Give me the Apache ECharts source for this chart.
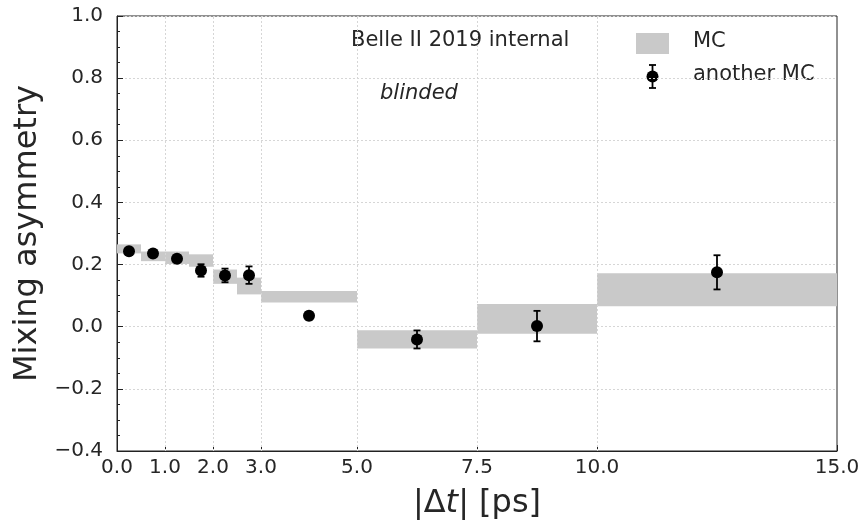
<!DOCTYPE html>
<html>
<head>
<meta charset="utf-8">
<script src="https://cdn.jsdelivr.net/npm/echarts@6/dist/echarts.min.js"></script>
<style>
html,body{margin:0;padding:0;background:#fff;}
#main{width:867px;height:525px;}
</style>
</head>
<body>
<div id="main"></div>
<script>
// ---- data ----
var binEdges = [0, 0.5, 1.0, 1.5, 2.0, 2.5, 3.0, 5.0, 7.5, 10.0, 15.0];
var mcLow  = [0.236, 0.211, 0.202, 0.193, 0.138, 0.104, 0.078, -0.070, -0.023, 0.066];
var mcHigh = [0.265, 0.242, 0.242, 0.233, 0.184, 0.158, 0.115, -0.011, 0.073, 0.172];
var ptX   = [0.25, 0.75, 1.25, 1.75, 2.25, 2.75, 4.0, 6.25, 8.75, 12.5];
var ptY   = [0.243, 0.236, 0.219, 0.181, 0.165, 0.166, 0.035, -0.041, 0.002, 0.175];
var ptErr = [0.009, 0.009, 0.011, 0.020, 0.022, 0.028, 0.012, 0.029, 0.049, 0.055];
var xTicks = [0, 1, 2, 3, 5, 7.5, 10, 15];
var xGrid = [1, 2, 3, 5, 7.5, 10];

var FONT = '"DejaVu Sans", sans-serif';
var TXT = '#262626';

var boxData = [];
for (var i = 0; i < mcLow.length; i++) boxData.push([binEdges[i], binEdges[i + 1], mcLow[i], mcHigh[i]]);
var errData = [];
var ptData = [];
for (var j = 0; j < ptX.length; j++) {
  errData.push([ptX[j], ptY[j] - ptErr[j], ptY[j] + ptErr[j]]);
  ptData.push([ptX[j], ptY[j]]);
}

var chart = echarts.init(document.getElementById('main'), null, {renderer: 'canvas'});
var option = {
  animation: false,
  backgroundColor: '#fff',
  textStyle: {fontFamily: FONT},
  grid: {left: 117, right: 30, top: 16, bottom: 71, show: true, borderColor: '#222', borderWidth: 1, backgroundColor: 'transparent'},
  xAxis: {
    type: 'value', min: 0, max: 15,
    name: '{n||Δ}{i|t}{n|| [ps]}',
    nameLocation: 'middle', nameGap: 37,
    nameTextStyle: {
      rich: {
        n: {fontFamily: FONT, fontSize: 32, color: TXT},
        i: {fontFamily: FONT, fontSize: 32, fontStyle: 'italic', color: TXT}
      }
    },
    axisLine: {show: true, onZero: false, lineStyle: {color: '#222', width: 1}},
    axisTick: {show: true, inside: true, length: 6, customValues: xTicks, lineStyle: {color: '#222'}},
    axisLabel: {customValues: xTicks, fontFamily: FONT, fontSize: 20, color: TXT, margin: 7,
      formatter: function (v) { return v.toFixed(1); }},
    splitLine: {show: false}
  },
  yAxis: {
    type: 'value', min: -0.4, max: 1.0, interval: 0.2,
    name: 'Mixing asymmetry', nameLocation: 'middle', nameGap: 70, nameRotate: 90,
    nameTextStyle: {fontFamily: FONT, fontSize: 32, color: TXT},
    axisLine: {show: true, onZero: false, lineStyle: {color: '#222', width: 1}},
    axisTick: {show: true, inside: true, length: 6, lineStyle: {color: '#222'}},
    minorTick: {show: true, splitNumber: 4, length: 3, lineStyle: {color: '#222'}},
    axisLabel: {fontFamily: FONT, fontSize: 20, color: TXT, margin: 14,
      formatter: function (v) {
        if (Math.abs(v) < 1e-9) return '0.0';
        return v < 0 ? '\u2212' + Math.abs(v).toFixed(1) : v.toFixed(1);
      }},
    splitLine: {show: true, lineStyle: {color: '#d6d6d6', type: [2, 2], width: 1}}
  },
  series: [
    {
      type: 'line', data: [], z: 1, silent: true,
      markLine: {
        silent: true, symbol: 'none', label: {show: false},
        lineStyle: {color: '#d6d6d6', type: [2, 2], width: 1},
        data: xGrid.map(function (v) { return {xAxis: v}; })
      }
    },
    {
      name: 'MC', type: 'custom', z: 3, data: boxData,
      renderItem: function (params, api) {
        var p0 = api.coord([api.value(0), api.value(3)]);
        var p1 = api.coord([api.value(1), api.value(2)]);
        return {
          type: 'rect',
          shape: {x: p0[0], y: p0[1], width: p1[0] - p0[0], height: p1[1] - p0[1]},
          style: {fill: '#c9c9c9'}
        };
      }
    },
    {
      name: 'errbar', type: 'custom', z: 4, data: errData,
      renderItem: function (params, api) {
        var lo = api.coord([api.value(0), api.value(1)]);
        var hi = api.coord([api.value(0), api.value(2)]);
        var c = 3.5;
        var st = {stroke: '#000', lineWidth: 1.8};
        return {
          type: 'group',
          children: [
            {type: 'line', shape: {x1: lo[0], y1: lo[1], x2: hi[0], y2: hi[1]}, style: st},
            {type: 'line', shape: {x1: lo[0] - c, y1: lo[1], x2: lo[0] + c, y2: lo[1]}, style: st},
            {type: 'line', shape: {x1: hi[0] - c, y1: hi[1], x2: hi[0] + c, y2: hi[1]}, style: st}
          ]
        };
      }
    },
    {
      name: 'another MC', type: 'scatter', z: 5, data: ptData,
      symbol: 'circle', symbolSize: 12,
      itemStyle: {color: '#000', opacity: 1}
    }
  ],
  graphic: [
    {type: 'text', left: 351, top: 30, style: {text: 'Belle II 2019 internal', font: '21px "DejaVu Sans"', fill: TXT}},
    {type: 'text', left: 380, top: 83, style: {text: 'blinded', font: 'italic 21px "DejaVu Sans"', fill: TXT}},
    {type: 'rect', shape: {x: 636, y: 33, width: 33, height: 21}, style: {fill: '#c9c9c9'}},
    {type: 'text', left: 693, top: 31, style: {text: 'MC', font: '21px "DejaVu Sans"', fill: TXT}},
    {type: 'line', shape: {x1: 652.5, y1: 65, x2: 652.5, y2: 88}, style: {stroke: '#000', lineWidth: 1.8}},
    {type: 'line', shape: {x1: 649, y1: 65, x2: 656, y2: 65}, style: {stroke: '#000', lineWidth: 1.8}},
    {type: 'line', shape: {x1: 649, y1: 88, x2: 656, y2: 88}, style: {stroke: '#000', lineWidth: 1.8}},
    {type: 'circle', shape: {cx: 652.5, cy: 76.5, r: 6}, style: {fill: '#000'}},
    {type: 'text', left: 693, top: 64, style: {text: 'another MC', font: '21px "DejaVu Sans"', fill: TXT}}
  ]
};
chart.setOption(option);
</script>
</body>
</html>
